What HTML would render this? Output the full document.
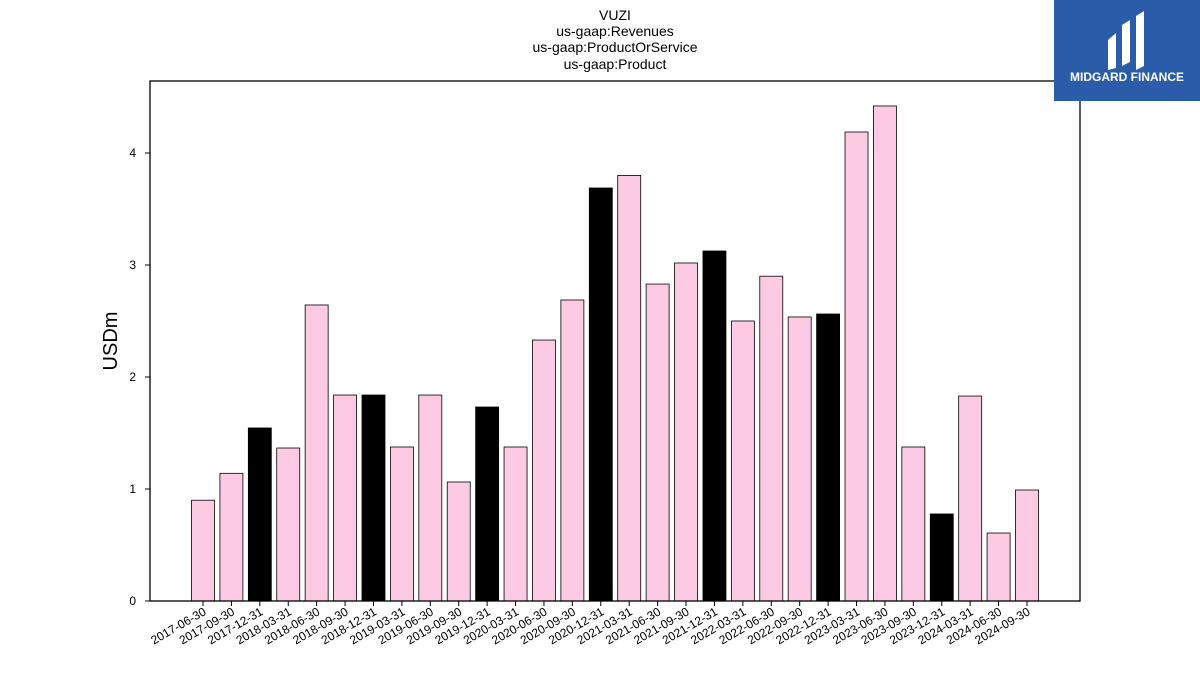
<!DOCTYPE html>
<html><head><meta charset="utf-8"><style>
html,body{margin:0;padding:0;background:#fff;width:1200px;height:675px;overflow:hidden;font-family:"Liberation Sans","DejaVu Sans",sans-serif}
</style></head><body>
<svg id="chart" width="1200" height="675" xmlns="http://www.w3.org/2000/svg">
<g font-size="14" text-anchor="middle" fill="#000">
<text x="615" y="20">VUZI</text>
<text x="615" y="36">us-gaap:Revenues</text>
<text x="615" y="52">us-gaap:ProductOrService</text>
<text x="615" y="69">us-gaap:Product</text>
</g>
<g id="bars"></g>
<g id="xaxis"></g>
<g id="yaxis"></g>
<rect x="150" y="81" width="930" height="520" fill="none" stroke="#000" stroke-width="1.3"/>
<text x="117" y="341" font-size="20" text-anchor="middle" transform="rotate(-90 117 341)">USDm</text>
<g>
<rect x="1054" y="0" width="146" height="101" fill="#2a5caa"/>
<path d="M1108 40 L1116 33 L1116 68 L1108 70 Z M1122 25 L1130 20 L1130 62 L1122 66 Z M1136 16 L1144 11 L1144 66 L1136 70 Z" fill="#fff"/>
<text x="1127" y="81" font-size="12" font-weight="bold" fill="#fff" text-anchor="middle">MIDGARD FINANCE</text>
</g>
</svg>
<script>
const categories=["2017-06-30","2017-09-30","2017-12-31","2018-03-31","2018-06-30","2018-09-30","2018-12-31","2019-03-31","2019-06-30","2019-09-30","2019-12-31","2020-03-31","2020-06-30","2020-09-30","2020-12-31","2021-03-31","2021-06-30","2021-09-30","2021-12-31","2022-03-31","2022-06-30","2022-09-30","2022-12-31","2023-03-31","2023-06-30","2023-09-30","2023-12-31","2024-03-31","2024-06-30","2024-09-30"];
const values=[0.90,1.14,1.545,1.366,2.643,1.839,1.839,1.375,1.839,1.0625,1.732,1.375,2.33,2.6875,3.6875,3.80,2.83,3.018,3.125,2.5,2.90,2.536,2.5625,4.1875,4.42,1.375,0.777,1.83,0.607,0.991];
const yTicks=[0,1,2,3,4];
const NS="http://www.w3.org/2000/svg";
const x0=203,step=(1027-203)/29,bw=23;
const xs=i=>x0+i*step;
const ys=v=>601-v*112;
const bars=document.getElementById('bars'),xa=document.getElementById('xaxis'),ya=document.getElementById('yaxis');
function mk(t,a,p){const e=document.createElementNS(NS,t);for(const k in a)e.setAttribute(k,a[k]);p.appendChild(e);return e;}
categories.forEach((c,i)=>{
 const v=values[i],q4=c.endsWith("12-31");
 const r=mk('rect',{x:xs(i)-bw/2,y:ys(v),width:bw,height:ys(0)-ys(v),fill:q4?'#000':'#fccae3',stroke:'#000','stroke-width':0.8},bars);
 
 
 const t=mk('line',{x1:xs(i),x2:xs(i),y1:601,y2:606,stroke:'#000'},xa);
 
 
 const l=mk('text',{x:xs(i)+4,y:614,'font-size':12,'text-anchor':'end',transform:`rotate(-30 ${xs(i)+4} 614)`},xa);
 l.textContent=c;
 
 
});
yTicks.forEach(v=>{
 const t=mk('line',{x1:145,x2:150,y1:ys(v),y2:ys(v),stroke:'#000'},ya);
 
 
 const l=mk('text',{x:136,y:ys(v)+4,'font-size':12,'text-anchor':'end'},ya);
 l.textContent=v;
 
 
});
</script>
</body></html>
